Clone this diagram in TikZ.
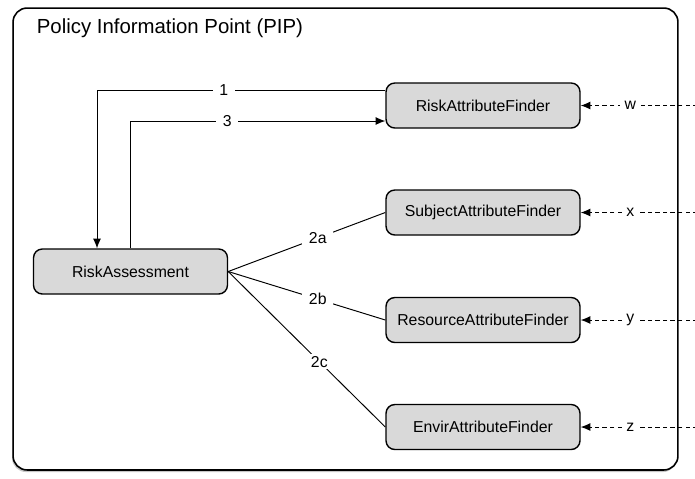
\documentclass[tikz,border=0pt]{standalone}
\usepackage{fontspec}
\setmainfont{Liberation Sans}
\usetikzlibrary{arrows.meta, shadows}

\begin{document}
\begin{tikzpicture}[x=0.02cm, y=-0.02cm, font=\fontsize{9}{11}\selectfont,
    b/.style={draw, line width=0.8pt, rounded corners=5pt, fill=gray!30, minimum width=3.88cm, minimum height=0.9cm},
    lbl/.style={fill=white, inner xsep=3.8pt, inner ysep=1pt},
    xlbl/.style={fill=white, inner xsep=2.5pt, inner ysep=1pt},
    arr/.style={line width=0.55pt, -{Latex[length=5.5pt,width=4.5pt]}},
    ext/.style={arr, dash pattern=on 2.5pt off 1.8pt}]
    \useasboundingbox (0,0) rectangle (695,478);
    \node[draw, line width=0.9pt, rounded corners=8pt, fill=white, minimum width=13.3cm, minimum height=9.24cm,
        drop shadow={shadow xshift=-0.6pt, shadow yshift=-1.2pt, opacity=0.45}] (pip) at (345.5,239) {};
    \node[anchor=base west, inner sep=0pt, font=\fontsize{11.6}{14}\selectfont] (title) at (36.5,33) {Policy Information Point (PIP)};
    \node[b] (raf) at (483,105.5) {RiskAttributeFinder};
    \node[b] (saf) at (483,212.5) {SubjectAttributeFinder};
    \node[b] (resaf) at (483,320) {ResourceAttributeFinder};
    \node[b] (eaf) at (483,427) {EnvirAttributeFinder};
    \node[b] (ra) at (130.5,271.5) {RiskAssessment};
    \coordinate (w) at (705,105.5);
    \coordinate (x) at (705,212.5);
    \coordinate (y) at (705,320);
    \coordinate (z) at (705,427);
    \draw[arr] ([yshift=0.31cm]raf.west) -| node[lbl, pos=0.28] {1} ([xshift=-0.67cm]ra.north);
    \draw[arr] (ra.north) |- node[lbl, pos=0.69] {3} ([yshift=-0.31cm]raf.west);
    \draw[line width=0.55pt] (ra.east) -- node[lbl, pos=0.57] {2a} (saf.west);
    \draw[line width=0.55pt] (ra.east) -- node[lbl, pos=0.57] {2b} (resaf.west);
    \draw[line width=0.55pt] (ra.east) -- node[lbl, pos=0.58] {2c} (eaf.west);
    \draw[ext] (w) -- node[xlbl, pos=0.6] {w} (raf.east);
    \draw[ext] (x) -- node[xlbl, pos=0.6] {x} (saf.east);
    \draw[ext] (y) -- node[xlbl, pos=0.6] {y} (resaf.east);
    \draw[ext] (z) -- node[xlbl, pos=0.6] {z} (eaf.east);
\end{tikzpicture}
\end{document}
